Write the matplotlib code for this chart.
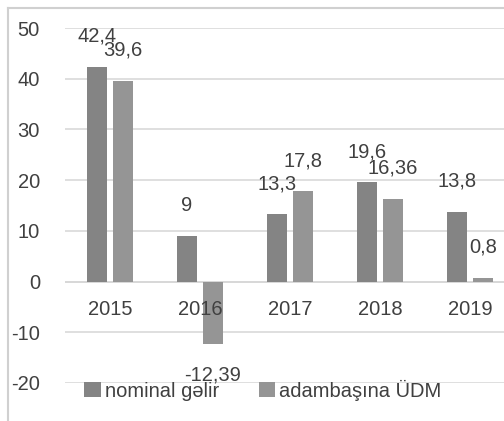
import matplotlib.pyplot as plt
import numpy as np
from matplotlib.lines import Line2D

years = ["2015", "2016", "2017", "2018", "2019"]
nominal = [42.4, 9, 13.3, 19.6, 13.8]
udm = [39.6, -12.39, 17.8, 16.36, 0.8]
nominal_labels = ["42,4", "9", "13,3", "19,6", "13,8"]
udm_labels = ["39,6", "-12,39", "17,8", "16,36", "0,8"]

TXT = "#404040"
FS = 14.5
plt.rcParams['font.family'] = ['Liberation Sans', 'DejaVu Sans']
plt.rcParams['axes.unicode_minus'] = False

fig = plt.figure(figsize=(5.04, 4.21), dpi=100)
ax = fig.add_axes([65 / 504, 38 / 421, 450 / 504, 355 / 421])

x = np.arange(len(years))
w = 0.22
b1 = ax.bar(x - 0.145, nominal, w, color="#848484", label="nominal gəlir", zorder=2)
b2 = ax.bar(x + 0.145, udm, w, color="#959595", label="adambaşına ÜDM", zorder=2)

# value labels above / below the bars
for bars, labels in ((b1, nominal_labels), (b2, udm_labels)):
    for r, lab in zip(bars, labels):
        h = r.get_height()
        off = 22 if h >= 0 else -22
        ax.annotate(lab, (r.get_x() + r.get_width() / 2, h), xytext=(0, off),
                    textcoords="offset points", ha="center",
                    va="center", fontsize=FS, color=TXT, zorder=3)

# category labels sit just under the zero line
for i, y in enumerate(years):
    ax.text(i, -5.5, y, ha="center", va="center", fontsize=FS, color=TXT, zorder=3)

ax.set_xlim(-0.5, 4.5)
ax.set_ylim(-20, 50)
ax.set_yticks(range(-20, 51, 10))
ax.set_xticks([])
ax.tick_params(axis="y", length=0, labelsize=FS, labelcolor=TXT, pad=18)
ax.grid(axis="y", color="#d9d9d9", linewidth=1.2, zorder=0)
for s in ax.spines.values():
    s.set_visible(False)
ax.axhline(0, color="#d0d0d0", linewidth=1.2, zorder=1)

fig.legend(handles=[b1, b2], loc="center", bbox_to_anchor=(263 / 504, 31 / 421),
           ncol=2, frameon=False, fontsize=FS, labelcolor=TXT,
           handlelength=0.8, handleheight=0.8, handletextpad=0.2, columnspacing=2.0)

fig.add_artist(Line2D([8 / 504, 8 / 504], [0, 413 / 421], color="#d0d0d0", linewidth=1.5))
fig.add_artist(Line2D([8 / 504, 1], [413 / 421, 413 / 421], color="#d0d0d0", linewidth=1.5))

fig.savefig("out.png", dpi=100)
